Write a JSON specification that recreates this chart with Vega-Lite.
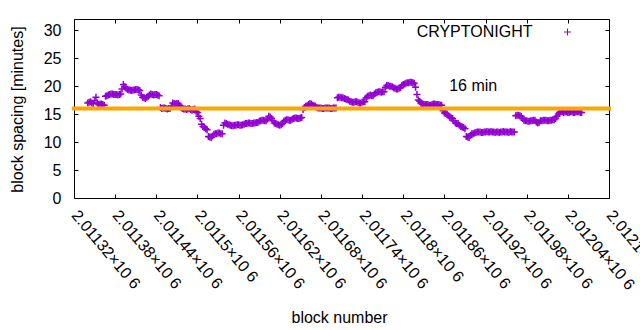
{
  "$schema": "https://vega.github.io/schema/vega-lite/v6.json",
  "width": 535,
  "height": 179,
  "autosize": {"type": "none"},
  "padding": {"left": 74, "top": 19, "right": 31, "bottom": 132},
  "background": "white",
  "data": {"values": [{}]},
  "config": {
    "view": {"stroke": "#000", "strokeWidth": 1},
    "font": "Liberation Sans",
    "axis": {"grid": false, "domain": false, "tickColor": "#000", "tickSize": -4, "labelColor": "#000", "labelFontSize": 16, "titleFontSize": 16, "titleFontWeight": "normal", "titleColor": "#000", "labelFont": "Liberation Sans", "titleFont": "Liberation Sans"}
  },
  "datasets": {
    "blocks": [
      {"block":2011340,"spacing":17.0},{"block":2011342,"spacing":17.1},{"block":2011344,"spacing":17.2},{"block":2011346,"spacing":17.0},{"block":2011348,"spacing":16.9},{"block":2011350,"spacing":17.4},
      {"block":2011352,"spacing":18.0},{"block":2011354,"spacing":17.0},{"block":2011356,"spacing":16.7},{"block":2011358,"spacing":16.8},{"block":2011360,"spacing":16.8},{"block":2011362,"spacing":16.7},{"block":2011364,"spacing":16.6},
      {"block":2011366,"spacing":18.2},{"block":2011368,"spacing":18.3},{"block":2011370,"spacing":18.4},{"block":2011372,"spacing":18.5},{"block":2011374,"spacing":18.6},{"block":2011376,"spacing":18.6},{"block":2011378,"spacing":18.5},
      {"block":2011380,"spacing":18.5},{"block":2011382,"spacing":18.5},{"block":2011384,"spacing":18.4},{"block":2011386,"spacing":18.5},{"block":2011388,"spacing":18.6},
      {"block":2011390,"spacing":19.5},{"block":2011392,"spacing":20.3},{"block":2011394,"spacing":19.9},
      {"block":2011396,"spacing":19.6},{"block":2011398,"spacing":19.4},{"block":2011400,"spacing":19.3},{"block":2011402,"spacing":19.3},{"block":2011404,"spacing":19.2},{"block":2011406,"spacing":19.3},{"block":2011408,"spacing":19.3},
      {"block":2011410,"spacing":19.4},{"block":2011412,"spacing":19.4},{"block":2011414,"spacing":19.3},{"block":2011416,"spacing":19.2},
      {"block":2011418,"spacing":18.4},{"block":2011420,"spacing":18.0},{"block":2011422,"spacing":17.9},{"block":2011424,"spacing":17.8},{"block":2011426,"spacing":18.0},
      {"block":2011428,"spacing":18.2},{"block":2011430,"spacing":18.4},{"block":2011432,"spacing":18.6},{"block":2011434,"spacing":18.5},{"block":2011436,"spacing":18.4},{"block":2011438,"spacing":18.5},{"block":2011440,"spacing":18.5},
      {"block":2011442,"spacing":18.4},{"block":2011444,"spacing":18.3},
      {"block":2011446,"spacing":16.2},{"block":2011448,"spacing":16.0},{"block":2011450,"spacing":16.1},{"block":2011452,"spacing":16.1},{"block":2011454,"spacing":16.0},{"block":2011456,"spacing":15.9},{"block":2011458,"spacing":16.0},
      {"block":2011460,"spacing":16.0},{"block":2011462,"spacing":16.3},
      {"block":2011464,"spacing":17.0},{"block":2011466,"spacing":16.9},{"block":2011468,"spacing":16.8},{"block":2011470,"spacing":16.9},{"block":2011472,"spacing":16.9},{"block":2011474,"spacing":16.6},
      {"block":2011476,"spacing":16.2},{"block":2011478,"spacing":16.0},{"block":2011480,"spacing":15.9},{"block":2011482,"spacing":15.9},{"block":2011484,"spacing":15.8},{"block":2011486,"spacing":15.9},{"block":2011488,"spacing":16.0},
      {"block":2011490,"spacing":15.8},{"block":2011492,"spacing":15.7},{"block":2011494,"spacing":15.8},{"block":2011496,"spacing":15.9},
      {"block":2011498,"spacing":15.5},{"block":2011500,"spacing":15.3},{"block":2011502,"spacing":14.6},{"block":2011504,"spacing":14.2},
      {"block":2011506,"spacing":13.2},{"block":2011508,"spacing":12.8},{"block":2011510,"spacing":12.6},{"block":2011512,"spacing":12.4},{"block":2011514,"spacing":12.2},
      {"block":2011516,"spacing":11.0},{"block":2011518,"spacing":10.9},{"block":2011520,"spacing":10.8},{"block":2011522,"spacing":11.1},
      {"block":2011524,"spacing":11.4},{"block":2011526,"spacing":11.5},{"block":2011528,"spacing":11.5},{"block":2011530,"spacing":11.6},{"block":2011532,"spacing":11.6},{"block":2011534,"spacing":11.5},{"block":2011536,"spacing":11.5},
      {"block":2011538,"spacing":13.0},{"block":2011540,"spacing":13.4},{"block":2011542,"spacing":13.3},{"block":2011544,"spacing":13.2},{"block":2011546,"spacing":13.1},{"block":2011548,"spacing":13.0},{"block":2011550,"spacing":12.9},
      {"block":2011552,"spacing":12.9},{"block":2011554,"spacing":13.0},{"block":2011556,"spacing":13.0},{"block":2011558,"spacing":13.1},{"block":2011560,"spacing":13.1},{"block":2011562,"spacing":13.0},{"block":2011564,"spacing":13.0},
      {"block":2011566,"spacing":13.1},{"block":2011568,"spacing":13.2},{"block":2011570,"spacing":13.3},{"block":2011572,"spacing":13.3},{"block":2011574,"spacing":13.4},{"block":2011576,"spacing":13.4},{"block":2011578,"spacing":13.3},
      {"block":2011580,"spacing":13.3},{"block":2011582,"spacing":13.4},{"block":2011584,"spacing":13.4},{"block":2011586,"spacing":13.5},{"block":2011588,"spacing":13.5},
      {"block":2011590,"spacing":13.7},{"block":2011592,"spacing":13.8},{"block":2011594,"spacing":13.9},{"block":2011596,"spacing":13.9},{"block":2011598,"spacing":13.8},{"block":2011600,"spacing":13.8},{"block":2011602,"spacing":14.1},
      {"block":2011604,"spacing":14.6},{"block":2011606,"spacing":14.5},{"block":2011608,"spacing":14.2},{"block":2011610,"spacing":13.8},
      {"block":2011612,"spacing":13.4},{"block":2011614,"spacing":13.3},{"block":2011616,"spacing":13.2},{"block":2011618,"spacing":13.1},{"block":2011620,"spacing":13.0},{"block":2011622,"spacing":13.1},{"block":2011624,"spacing":13.3},
      {"block":2011626,"spacing":13.7},{"block":2011628,"spacing":13.9},{"block":2011630,"spacing":14.0},{"block":2011632,"spacing":14.0},{"block":2011634,"spacing":13.9},{"block":2011636,"spacing":13.9},{"block":2011638,"spacing":14.1},
      {"block":2011640,"spacing":14.2},{"block":2011642,"spacing":14.3},{"block":2011644,"spacing":14.3},{"block":2011646,"spacing":14.2},{"block":2011648,"spacing":14.2},{"block":2011650,"spacing":14.3},{"block":2011652,"spacing":14.4},
      {"block":2011654,"spacing":15.8},{"block":2011656,"spacing":16.2},{"block":2011658,"spacing":16.4},{"block":2011660,"spacing":16.5},{"block":2011662,"spacing":16.7},{"block":2011664,"spacing":16.9},{"block":2011666,"spacing":16.8},
      {"block":2011668,"spacing":16.6},{"block":2011670,"spacing":16.5},{"block":2011672,"spacing":16.4},
      {"block":2011674,"spacing":16.2},{"block":2011676,"spacing":16.1},{"block":2011678,"spacing":16.1},{"block":2011680,"spacing":16.1},{"block":2011682,"spacing":16.0},{"block":2011684,"spacing":16.0},{"block":2011686,"spacing":16.1},
      {"block":2011688,"spacing":16.1},{"block":2011690,"spacing":16.1},{"block":2011692,"spacing":16.1},{"block":2011694,"spacing":16.0},{"block":2011696,"spacing":16.0},{"block":2011698,"spacing":16.1},{"block":2011700,"spacing":16.1},
      {"block":2011702,"spacing":16.1},
      {"block":2011704,"spacing":17.9},{"block":2011706,"spacing":18.0},{"block":2011708,"spacing":18.0},{"block":2011710,"spacing":17.9},{"block":2011712,"spacing":17.9},{"block":2011714,"spacing":17.8},{"block":2011716,"spacing":17.7},
      {"block":2011718,"spacing":17.6},{"block":2011720,"spacing":17.5},
      {"block":2011722,"spacing":17.3},{"block":2011724,"spacing":17.2},{"block":2011726,"spacing":17.1},{"block":2011728,"spacing":17.1},{"block":2011730,"spacing":17.2},{"block":2011732,"spacing":17.2},{"block":2011734,"spacing":17.1},
      {"block":2011736,"spacing":17.0},{"block":2011738,"spacing":17.0},{"block":2011740,"spacing":17.1},{"block":2011742,"spacing":17.2},{"block":2011744,"spacing":17.2},
      {"block":2011746,"spacing":17.9},{"block":2011748,"spacing":18.2},{"block":2011750,"spacing":18.3},{"block":2011752,"spacing":18.4},{"block":2011754,"spacing":18.3},{"block":2011756,"spacing":18.3},
      {"block":2011758,"spacing":18.6},{"block":2011760,"spacing":18.8},{"block":2011762,"spacing":18.9},{"block":2011764,"spacing":19.0},{"block":2011766,"spacing":19.0},{"block":2011768,"spacing":18.9},{"block":2011770,"spacing":19.0},
      {"block":2011772,"spacing":19.0},
      {"block":2011774,"spacing":19.8},{"block":2011776,"spacing":20.1},{"block":2011778,"spacing":20.1},{"block":2011780,"spacing":20.0},{"block":2011782,"spacing":20.0},{"block":2011784,"spacing":19.9},
      {"block":2011786,"spacing":19.7},{"block":2011788,"spacing":19.6},{"block":2011790,"spacing":19.5},{"block":2011792,"spacing":19.5},{"block":2011794,"spacing":19.6},{"block":2011796,"spacing":19.7},
      {"block":2011798,"spacing":20.1},{"block":2011800,"spacing":20.3},{"block":2011802,"spacing":20.4},{"block":2011804,"spacing":20.5},{"block":2011806,"spacing":20.6},{"block":2011808,"spacing":20.6},{"block":2011810,"spacing":20.7},
      {"block":2011812,"spacing":20.7},{"block":2011814,"spacing":20.6},{"block":2011816,"spacing":20.5},
      {"block":2011818,"spacing":19.8},{"block":2011820,"spacing":18.5},{"block":2011822,"spacing":17.5},{"block":2011824,"spacing":17.3},
      {"block":2011826,"spacing":16.9},{"block":2011828,"spacing":16.8},{"block":2011830,"spacing":16.7},{"block":2011832,"spacing":16.7},{"block":2011834,"spacing":16.7},{"block":2011836,"spacing":16.7},{"block":2011838,"spacing":16.6},
      {"block":2011840,"spacing":16.6},{"block":2011842,"spacing":16.7},{"block":2011844,"spacing":16.8},{"block":2011846,"spacing":16.8},{"block":2011848,"spacing":16.7},{"block":2011850,"spacing":16.7},{"block":2011852,"spacing":16.7},
      {"block":2011854,"spacing":16.6},{"block":2011856,"spacing":16.6},
      {"block":2011858,"spacing":15.6},{"block":2011860,"spacing":15.2},{"block":2011862,"spacing":15.1},{"block":2011864,"spacing":15.0},{"block":2011866,"spacing":14.7},
      {"block":2011868,"spacing":14.4},{"block":2011870,"spacing":14.3},{"block":2011872,"spacing":14.2},{"block":2011874,"spacing":13.8},
      {"block":2011876,"spacing":13.4},{"block":2011878,"spacing":13.3},{"block":2011880,"spacing":13.3},{"block":2011882,"spacing":13.0},
      {"block":2011884,"spacing":12.8},{"block":2011886,"spacing":12.7},{"block":2011888,"spacing":12.6},{"block":2011890,"spacing":12.4},
      {"block":2011892,"spacing":11.0},{"block":2011894,"spacing":10.9},{"block":2011896,"spacing":10.8},{"block":2011898,"spacing":11.2},
      {"block":2011900,"spacing":11.5},{"block":2011902,"spacing":11.5},{"block":2011904,"spacing":11.6},{"block":2011906,"spacing":11.7},
      {"block":2011908,"spacing":11.8},{"block":2011910,"spacing":11.8},{"block":2011912,"spacing":11.8},{"block":2011914,"spacing":11.7},{"block":2011916,"spacing":11.7},{"block":2011918,"spacing":11.8},{"block":2011920,"spacing":11.8},
      {"block":2011922,"spacing":11.9},{"block":2011924,"spacing":11.8},{"block":2011926,"spacing":11.8},{"block":2011928,"spacing":11.9},{"block":2011930,"spacing":11.8},{"block":2011932,"spacing":11.8},{"block":2011934,"spacing":11.7},
      {"block":2011936,"spacing":11.8},{"block":2011938,"spacing":11.8},{"block":2011940,"spacing":11.7},{"block":2011942,"spacing":11.8},{"block":2011944,"spacing":11.8},{"block":2011946,"spacing":11.9},{"block":2011948,"spacing":11.8},
      {"block":2011950,"spacing":11.8},{"block":2011952,"spacing":11.8},{"block":2011954,"spacing":11.7},{"block":2011956,"spacing":11.9},{"block":2011958,"spacing":11.8},{"block":2011960,"spacing":11.8},{"block":2011962,"spacing":11.8},
      {"block":2011964,"spacing":14.7},{"block":2011966,"spacing":14.8},{"block":2011968,"spacing":14.8},{"block":2011970,"spacing":14.7},{"block":2011972,"spacing":14.6},{"block":2011974,"spacing":14.2},
      {"block":2011976,"spacing":13.9},{"block":2011978,"spacing":13.8},{"block":2011980,"spacing":13.8},{"block":2011982,"spacing":13.7},{"block":2011984,"spacing":13.7},{"block":2011986,"spacing":13.8},{"block":2011988,"spacing":13.8},
      {"block":2011990,"spacing":13.9},{"block":2011992,"spacing":13.9},{"block":2011994,"spacing":13.6},{"block":2011996,"spacing":13.4},{"block":2011998,"spacing":13.5},
      {"block":2012000,"spacing":13.8},{"block":2012002,"spacing":13.8},{"block":2012004,"spacing":13.9},{"block":2012006,"spacing":13.9},{"block":2012008,"spacing":13.9},{"block":2012010,"spacing":13.8},{"block":2012012,"spacing":13.8},
      {"block":2012014,"spacing":13.9},{"block":2012016,"spacing":13.9},{"block":2012018,"spacing":14.0},{"block":2012020,"spacing":14.0},{"block":2012022,"spacing":14.2},
      {"block":2012024,"spacing":14.6},{"block":2012026,"spacing":15.0},
      {"block":2012028,"spacing":15.3},{"block":2012030,"spacing":15.4},{"block":2012032,"spacing":15.4},{"block":2012034,"spacing":15.3},{"block":2012036,"spacing":15.4},{"block":2012038,"spacing":15.4},{"block":2012040,"spacing":15.3},
      {"block":2012042,"spacing":15.3},{"block":2012044,"spacing":15.4},{"block":2012046,"spacing":15.4},{"block":2012048,"spacing":15.3},{"block":2012050,"spacing":15.3},{"block":2012052,"spacing":15.4},{"block":2012054,"spacing":15.4},
      {"block":2012056,"spacing":15.4},{"block":2012058,"spacing":15.3},{"block":2012060,"spacing":15.3}
    ]
  },
  "layer": [
    {
      "data": {"name": "blocks"},
      "mark": {"type": "point", "shape": "M-1,0H1M0,-1V1", "filled": false, "strokeWidth": 1.5, "size": 49, "opacity": 1},
      "encoding": {
        "x": {
          "field": "block", "type": "quantitative",
          "scale": {"domain": [2011320, 2012100], "nice": false, "zero": false},
          "axis": {
            "orient": "bottom",
            "values": [2011320, 2011380, 2011440, 2011500, 2011560, 2011620, 2011680, 2011740, 2011800, 2011860, 2011920, 2011980, 2012040, 2012100],
            "labelExpr": "format(datum.value / 1000000, '.6~g') + '×10 6'",
            "labelAngle": 50, "labelAlign": "left", "labelBaseline": "middle", "labelPadding": 18,
            "labelFlush": false, "labelOverlap": false, "labelBound": false,
            "title": "block number", "titleX": 265, "titleY": 124, "titleBaseline": "alphabetic", "titleAlign": "center"
          }
        },
        "y": {
          "field": "spacing", "type": "quantitative",
          "scale": {"domain": [0, 32], "nice": false},
          "axis": {
            "orient": "left", "values": [0, 5, 10, 15, 20, 25, 30], "labelPadding": 17,
            "title": "block spacing [minutes]", "titleAngle": -90, "titleX": -52, "titleY": 90, "titleBaseline": "alphabetic", "titleAlign": "center"
          }
        },
        "color": {
          "datum": "CRYPTONIGHT", "type": "nominal",
          "scale": {"range": ["#9400D3"]},
          "legend": {
            "orient": "none", "legendX": 485.5, "legendY": 5, "title": null,
            "symbolType": "M-1,0H1M0,-1V1", "symbolSize": 49, "symbolStrokeWidth": 1, "symbolFillColor": "transparent",
            "labelAlign": "right", "labelOffset": -43, "labelFontSize": 16, "labelFont": "Liberation Sans", "labelColor": "#000"
          }
        }
      }
    },
    {
      "mark": {"type": "rule", "color": "#FFA500", "strokeWidth": 4, "strokeCap": "square"},
      "encoding": {"y": {"datum": 16, "type": "quantitative", "axis": null}}
    },
    {
      "mark": {"type": "text", "align": "left", "baseline": "middle", "fontSize": 16, "font": "Liberation Sans", "color": "#000"},
      "encoding": {
        "x": {"datum": 2011867, "type": "quantitative", "axis": {"orient": "top", "values": [2011320, 2011380, 2011440, 2011500, 2011560, 2011620, 2011680, 2011740, 2011800, 2011860, 2011920, 2011980, 2012040, 2012100], "labels": false, "title": null}},
        "y": {"datum": 20, "type": "quantitative", "axis": {"orient": "right", "values": [0, 5, 10, 15, 20, 25, 30], "labels": false, "title": null}},
        "text": {"value": "16 min"}
      }
    }
  ],
  "resolve": {"axis": {"x": "independent", "y": "independent"}}
}
